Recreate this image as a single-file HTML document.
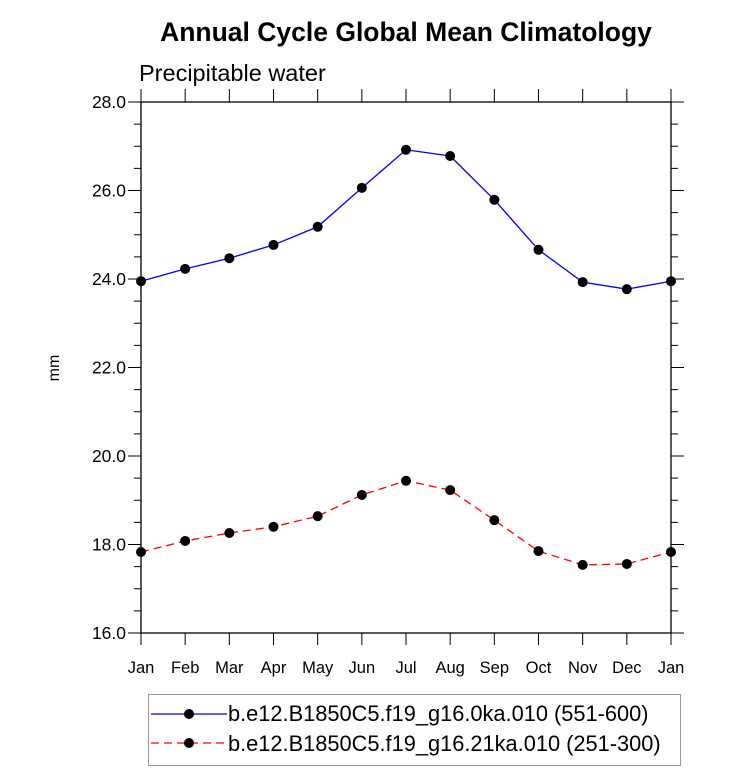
<!DOCTYPE html>
<html><head><meta charset="utf-8"><style>
body{margin:0;background:#fff;}
svg{display:block;font-family:"Liberation Sans",Arial,sans-serif;}
</style></head><body>
<svg id="chart" width="733" height="771">
<text x="406" y="41" text-anchor="middle" font-size="26.5" font-weight="bold">Annual Cycle Global Mean Climatology</text>
<text x="139" y="81" font-size="23.5">Precipitable water</text>
<text transform="translate(59,368) rotate(-90)" text-anchor="middle" font-size="16">mm</text>
<g id="axes"></g>
<g id="series"></g>
<g>
<rect x="148.5" y="694.5" width="532" height="71" fill="#fff" stroke="#999" stroke-width="1"/>
<line x1="151" y1="714" x2="227" y2="714" stroke="#00f" stroke-width="1.3"/>
<circle cx="189" cy="714" r="5" fill="#000"/>
<text x="228" y="721" font-size="21.8">b.e12.B1850C5.f19_g16.0ka.010 (551-600)</text>
<line x1="151" y1="743" x2="227" y2="743" stroke="#f00" stroke-width="1.3" stroke-dasharray="8,5"/>
<circle cx="189" cy="743" r="5" fill="#000"/>
<text x="228" y="751" font-size="21.8">b.e12.B1850C5.f19_g16.21ka.010 (251-300)</text>
</g>
</svg>
<script>
const months=["Jan","Feb","Mar","Apr","May","Jun","Jul","Aug","Sep","Oct","Nov","Dec","Jan"];
const blueValues=[23.95,24.23,24.47,24.77,25.18,26.06,26.92,26.78,25.79,24.66,23.93,23.77,23.95];
const redValues=[17.83,18.08,18.26,18.40,18.64,19.12,19.44,19.23,18.55,17.85,17.54,17.56,17.83];
const yTicks=[16,18,20,22,24,26,28];
const yMin=16,yMax=28;
const L=141,R=671,T=102,B=633;
const xs=i=>L+(R-L)*i/(months.length-1);
const ys=v=>B-(B-T)*(v-yMin)/(yMax-yMin);
const NS="http://www.w3.org/2000/svg";
function mk(tag,attrs,parent){const e=document.createElementNS(NS,tag);for(const k in attrs)e.setAttribute(k,attrs[k]);parent.appendChild(e);return e;}
const ax=document.getElementById('axes');
const frame=mk('rect',{x:L,y:T,width:R-L,height:B-T,fill:'none',stroke:'#000','stroke-width':1.3},ax);


for(let v=yMin;v<=yMax+1e-9;v+=0.5){
  const y=ys(v);const major=Math.abs(v%2)<1e-9;const len=major?13:7;
  mk('line',{x1:L-len,y1:y,x2:L,y2:y,stroke:'#000','stroke-width':1},ax);
  mk('line',{x1:R,y1:y,x2:R+len,y2:y,stroke:'#000','stroke-width':1},ax);
}
yTicks.forEach(v=>{
  const t=mk('text',{x:L-15,y:ys(v)+6,'text-anchor':'end','font-size':17.5},ax);
  t.textContent=v.toFixed(1);
  
  
});
months.forEach((m,i)=>{
  const x=xs(i);
  mk('line',{x1:x,y1:B,x2:x,y2:B+12,stroke:'#000','stroke-width':1},ax);
  mk('line',{x1:x,y1:T-13,x2:x,y2:T,stroke:'#000','stroke-width':1},ax);
  const t=mk('text',{x:x,y:B+40,'text-anchor':'middle','font-size':16.5},ax);
  t.textContent=m;
  
  
});
const sg=document.getElementById('series');
function drawSeries(vals,color,dash,name){
  const pts=vals.map((v,i)=>xs(i)+','+ys(v)).join(' ');
  const pl=mk('polyline',{points:pts,fill:'none',stroke:color,'stroke-width':1.3,'stroke-dasharray':dash},sg);
  
  
  vals.forEach((v,i)=>{
    const c=mk('circle',{cx:xs(i),cy:ys(v),r:5,fill:'#000'},sg);
    
    
  });
}
drawSeries(blueValues,'#00f','none','blue-series');
drawSeries(redValues,'#f00','8,5','red-series');
</script>
</body></html>
